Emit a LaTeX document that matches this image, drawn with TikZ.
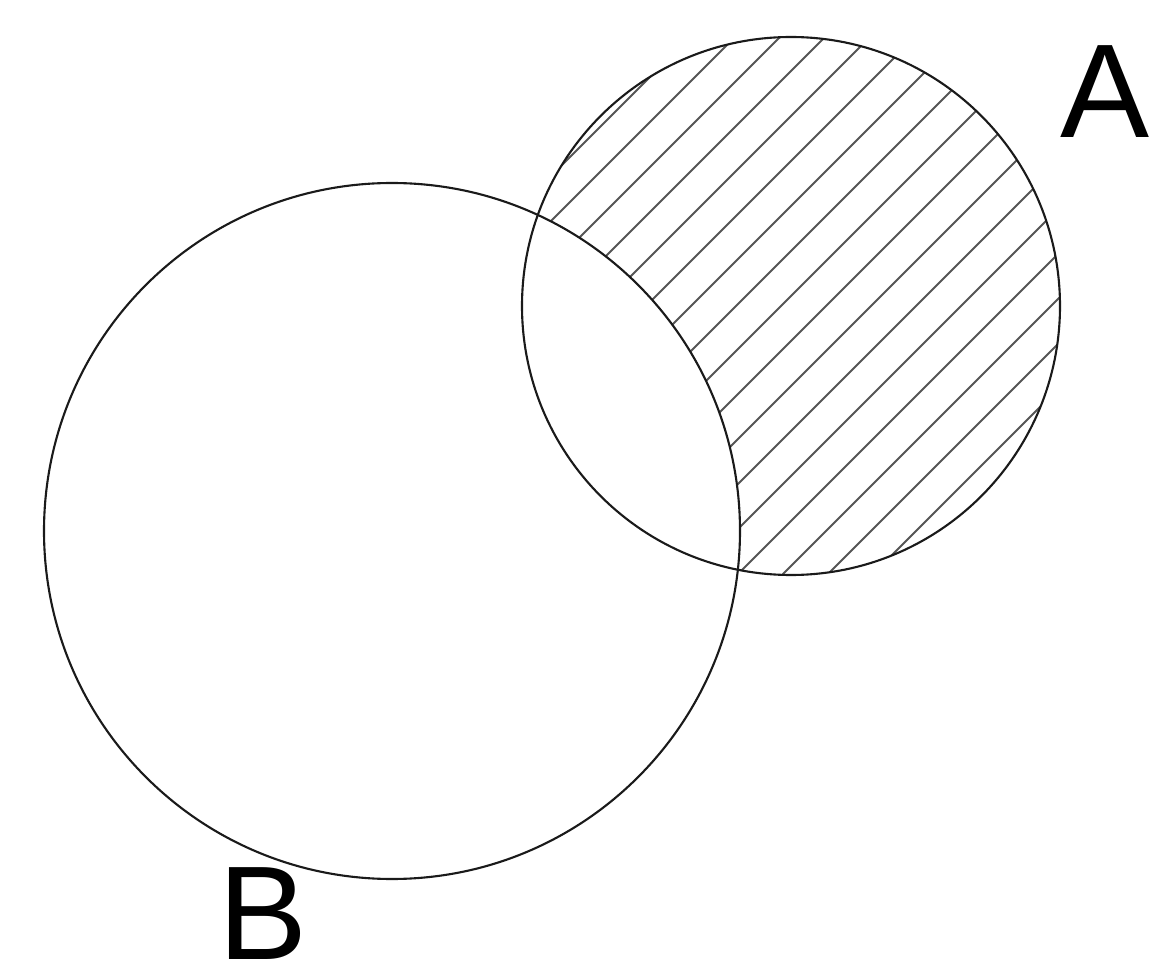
\documentclass[tikz,border=0pt]{standalone}
\usepackage{fontspec}
\setmainfont{Liberation Sans}
\usepackage{tikz}
\definecolor{lineColor}{HTML}{1A1A1A}
\definecolor{hatchColor}{HTML}{555555}

\begin{document}
\begin{tikzpicture}[
    setline/.style={lineColor, line width=0.6pt},
    hatchline/.style={hatchColor, line width=0.55pt},
    setlabel/.style={font=\fontsize{38}{42}\selectfont, inner sep=0pt}]
    \useasboundingbox (0,0) rectangle (11.54,9.72);

    \coordinate (centreA) at (7.91, 6.66);
    \coordinate (centreB) at (3.92, 4.41);

    % hatching of A without B
    \begin{scope}
        \clip (centreA) circle (2.69);
        \foreach \d in {-7.0,-6.55,...,4.6}
            \draw[hatchline] (4, 4+\d) -- (12, 12+\d);
    \end{scope}
    \fill[white] (centreB) circle (3.48);

    \draw[setline] (centreA) circle (2.69);
    \draw[setline] (centreB) circle (3.48);

    \node[setlabel] (labelA) at (11.05, 8.80) {A};
    \node[setlabel] (labelB) at (2.63, 0.58) {B};
\end{tikzpicture}
\end{document}
